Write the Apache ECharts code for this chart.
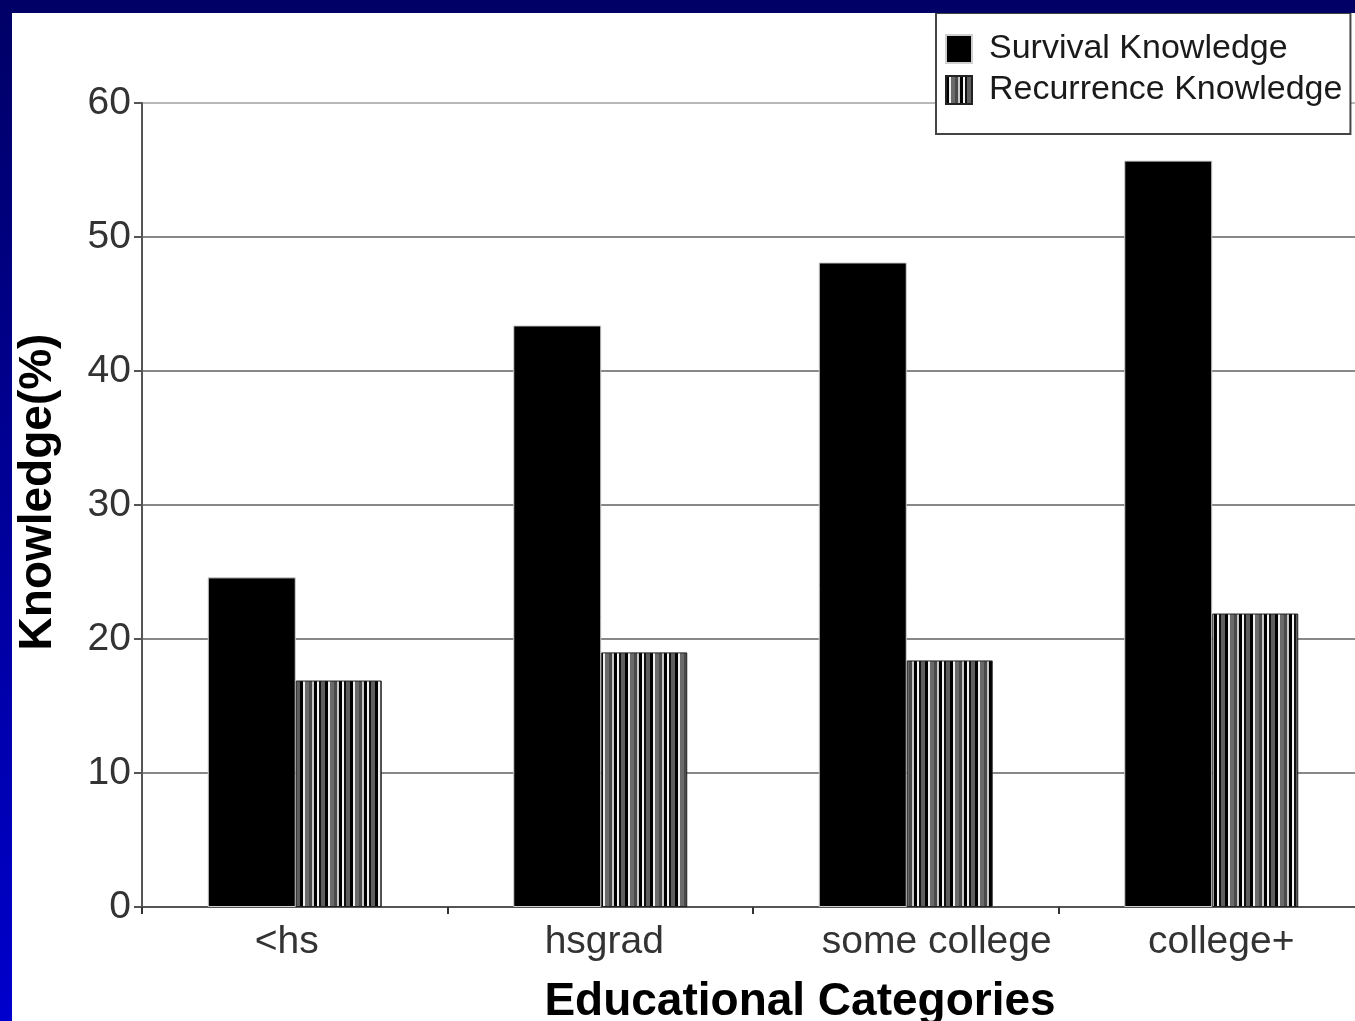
<!DOCTYPE html>
<html>
<head>
<meta charset="utf-8">
<title>Knowledge by Educational Category</title>
<script src="https://cdn.jsdelivr.net/npm/echarts@6/dist/echarts.min.js"></script>
<style>
  html, body { margin: 0; padding: 0; background: #ffffff; }
  #chart { width: 1355px; height: 1021px; }
</style>
</head>
<body>
<div id="chart"></div>
<script>
// Education categories and knowledge percentages
const categories = ['<hs', 'hsgrad', 'some college', 'college+'];
const survivalKnowledge = [24.6, 43.4, 48.1, 55.7];
const recurrenceKnowledge = [16.9, 19.0, 18.4, 21.9];
const yTicks = [0, 10, 20, 30, 40, 50, 60];

// Horizontal nudges for the category labels (px, + = right)
const labelNudge = [-8, 4, 31, 10];

// Vertical stripe fill used for the recurrence bars
function stripeCanvas() {
  const stripes = [
    ['#000000', 3], ['#eeeeee', 2], ['#6a6a6a', 4], ['#4a4a4a', 3],
    ['#c8c8c8', 2], ['#000000', 3], ['#f4f4f4', 2], ['#111111', 2], ['#5e5e5e', 4]
  ];
  const w = stripes.reduce((s, d) => s + d[1], 0);
  const c = document.createElement('canvas');
  c.width = w; c.height = 8;
  const ctx = c.getContext('2d');
  let x = 0;
  stripes.forEach(([col, sw]) => { ctx.fillStyle = col; ctx.fillRect(x, 0, sw, 8); x += sw; });
  return c;
}
const stripeFill = { image: stripeCanvas(), repeat: 'repeat' };

const chart = echarts.init(document.getElementById('chart'), null, { renderer: 'canvas' });

const option = {
  backgroundColor: '#ffffff',
  animation: false,
  textStyle: { fontFamily: 'Liberation Sans, Arial, sans-serif' },
  grid: { left: 142, top: 103, right: -9, bottom: 114, outerBoundsMode: 'none', containLabel: false },
  legend: {
    orient: 'vertical',
    left: 936, top: 13,
    padding: [19, 8, 27, 9],
    icon: 'rect',
    itemWidth: 26, itemHeight: 28, itemGap: 7,
    borderColor: '#444', borderWidth: 2,
    backgroundColor: '#ffffff',
    textStyle: { fontSize: 34, color: '#1a1a1a', padding: [0, 0, 0, 12] },
    data: ['Survival Knowledge', 'Recurrence Knowledge']
  },
  xAxis: {
    type: 'category',
    data: categories.map((c, i) => ({
      value: c,
      textStyle: { padding: labelNudge[i] >= 0 ? [0, 0, 0, 2 * labelNudge[i]] : [0, -2 * labelNudge[i], 0, 0] }
    })),
    boundaryGap: true,
    axisLine: { lineStyle: { color: '#555', width: 2 } },
    axisTick: { show: true, length: 7, lineStyle: { color: '#333', width: 2 } },
    axisLabel: { fontSize: 39, color: '#333', margin: 16 },
    name: 'Educational Categories',
    nameLocation: 'middle',
    nameGap: 72,
    nameTextStyle: { fontSize: 46, fontWeight: 'bold', color: '#000', padding: [0, 0, 0, 94] }
  },
  yAxis: {
    type: 'value',
    min: yTicks[0], max: yTicks[yTicks.length - 1], interval: 10,
    axisLine: { show: true, lineStyle: { color: '#555', width: 2 } },
    axisTick: { show: true, length: 8, lineStyle: { color: '#555', width: 2 } },
    axisLabel: { fontSize: 39, color: '#333', margin: 11 },
    splitLine: {
      show: true,
      lineStyle: { color: ['#888', '#888', '#888', '#888', '#888', '#888', '#b8b8b8'], width: 2 }
    },
    name: 'Knowledge(%)',
    nameLocation: 'middle',
    nameGap: 81,
    nameTextStyle: { fontSize: 46, fontWeight: 'bold', color: '#000', padding: [0, 0, 0, 26] }
  },
  series: [
    {
      name: 'Survival Knowledge',
      type: 'bar',
      data: survivalKnowledge,
      barWidth: 88,
      barGap: '0%',
      itemStyle: { color: '#000000', borderColor: '#cfcfcf', borderWidth: 1 }
    },
    {
      name: 'Recurrence Knowledge',
      type: 'bar',
      data: recurrenceKnowledge,
      barWidth: 86,
      barGap: '0%',
      itemStyle: { color: stripeFill, borderColor: '#222', borderWidth: 1 }
    }
  ],
  graphic: [
    { type: 'rect', left: 0, top: 0, z: 100, shape: { width: 1355, height: 13 }, style: { fill: '#000066' } },
    {
      type: 'rect', left: 0, top: 0, z: 100, shape: { width: 12, height: 1021 },
      style: {
        fill: new echarts.graphic.LinearGradient(0, 0, 0, 1, [
          { offset: 0, color: '#000066' }, { offset: 1, color: '#0000cc' }
        ])
      }
    }
  ]
};

chart.setOption(option);
</script>
</body>
</html>
